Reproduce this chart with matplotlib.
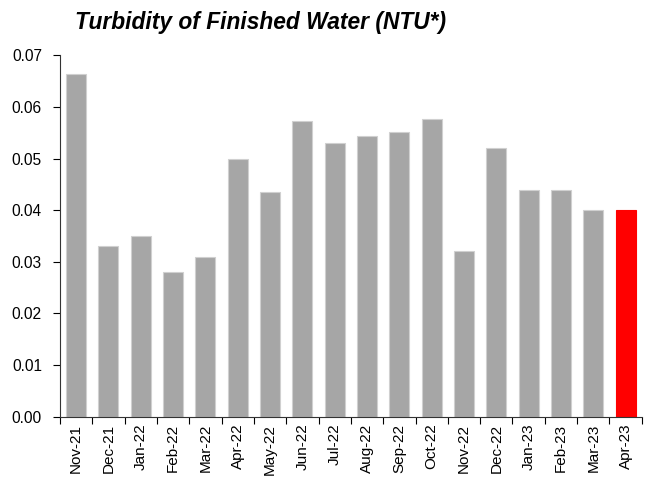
import matplotlib
matplotlib.use('Agg')
import matplotlib.pyplot as plt
import numpy as np

months = ['Nov-21', 'Dec-21', 'Jan-22', 'Feb-22', 'Mar-22', 'Apr-22', 'May-22',
          'Jun-22', 'Jul-22', 'Aug-22', 'Sep-22', 'Oct-22', 'Nov-22', 'Dec-22',
          'Jan-23', 'Feb-23', 'Mar-23', 'Apr-23']
turbidity = [0.0664, 0.033, 0.035, 0.028, 0.031, 0.050, 0.0435,
             0.0573, 0.053, 0.0543, 0.0551, 0.0576, 0.032, 0.052,
             0.044, 0.044, 0.040, 0.040]

plt.rcParams['font.family'] = ['Liberation Sans', 'DejaVu Sans']

fig = plt.figure(figsize=(6.45, 4.79), dpi=100)
ax = fig.add_axes([0.093, 0.130, 0.902, 0.7546])

x = np.arange(len(months))
colors = ['#A6A6A6'] * (len(months) - 1) + ['#FF0000']
edges = ['#D0D0D0'] * (len(months) - 1) + ['#FF0000']
ax.bar(x, turbidity, width=0.62, color=colors, edgecolor=edges, linewidth=0.8)

ax.set_xlim(-0.5, len(months) - 0.5)
ax.set_ylim(0, 0.07)
yt = np.arange(0, 0.071, 0.01)
ax.set_yticks(yt)
ax.set_yticklabels([f'{v:.2f}' for v in yt], fontsize=11.2)

# labels at bar centres, tick marks at category boundaries
ax.set_xticks(x)
ax.set_xticklabels(months, rotation=90, fontsize=11)
ax.tick_params(axis='x', which='major', length=0, pad=5)
ax.set_xticks(np.arange(-0.5, len(months)), minor=True)
ax.tick_params(axis='x', which='minor', length=5, width=0.8, direction='out')
ax.tick_params(axis='y', length=5, width=0.8, direction='out', pad=8)

for s in ['top', 'right']:
    ax.spines[s].set_visible(False)
ax.spines['left'].set_color('#333333')
ax.spines['bottom'].set_color('#333333')

fig.text(0.116, 0.954, 'Turbidity of Finished Water (NTU*)', fontsize=16.4,
         fontweight='bold', fontstyle='italic', va='center', ha='left')

plt.savefig('out.png', dpi=100)
